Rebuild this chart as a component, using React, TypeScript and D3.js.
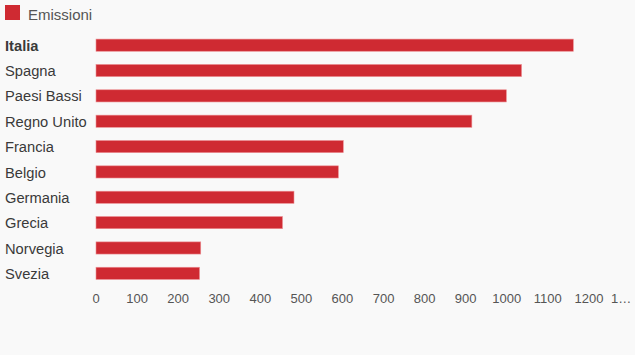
import React, { useEffect, useRef } from "react";
import * as d3 from "d3";

const countries = ["Italia", "Spagna", "Paesi Bassi", "Regno Unito", "Francia", "Belgio", "Germania", "Grecia", "Norvegia", "Svezia"];
const emissions = [1162, 1036, 999, 915, 602, 590, 482, 454, 255, 252];
const ticks = [0, 100, 200, 300, 400, 500, 600, 700, 800, 900, 1000, 1100, 1200, 1300];
const seriesName = "Emissioni";

const W = 635;
const H = 355;
const RED = "#cf2a32";

const App = () => {
  const svgRef = useRef<SVGSVGElement>(null);

  useEffect(() => {
    const svg = d3.select(svgRef.current);
    svg.selectAll("*").remove();

    svg.append("rect").attr("width", W).attr("height", H).attr("fill", "#f9f9f9");

    const x = d3.scaleLinear().domain([0, 1300]).range([96, 630]);
    const y = d3.scaleBand().domain(countries).range([32.5, 286]).paddingInner(0.52).paddingOuter(0.26);

    // legend
    svg.append("rect").attr("x", 5).attr("y", 5).attr("width", 15).attr("height", 15).attr("fill", RED);
    svg.append("text")
      .attr("x", 28).attr("y", 19.5)
      .text(seriesName)
      .style("font-size", "15px")
      .attr("fill", "#555");

    // bars
    svg.selectAll("rect.bar")
      .data(countries)
      .join("rect")
      .attr("class", "bar")
      .attr("x", x(0))
      .attr("y", d => y(d)!)
      .attr("width", (d, i) => x(emissions[i]) - x(0))
      .attr("height", y.bandwidth())
      .attr("fill", RED)
      .attr("stroke", "#ec8f93")
      .attr("stroke-width", 0.6);

    // category labels
    svg.selectAll("text.cat")
      .data(countries)
      .join("text")
      .attr("class", "cat")
      .attr("x", 5)
      .attr("y", d => y(d)! + y.bandwidth() / 2)
      .attr("dy", "0.38em")
      .text(d => d)
      .style("font-size", "14.7px")
      .style("font-weight", (d, i) => (i === 0 ? "bold" : "normal"))
      .attr("fill", "#3a3a3a");

    // x tick labels (last one is truncated in the original)
    svg.selectAll("text.tick")
      .data(ticks)
      .join("text")
      .attr("class", "tick")
      .attr("x", d => (d === 1300 ? x(d) - 19 : x(d)))
      .attr("y", 302.5)
      .attr("text-anchor", d => (d === 1300 ? "start" : "middle"))
      .text(d => (d === 1300 ? "1…" : String(d)))
      .style("font-size", "13px")
      .attr("fill", "#555");
  }, []);

  return (
    <svg
      ref={svgRef}
      width={W}
      height={H}
      style={{ position: "absolute", left: 0, top: 0, fontFamily: "'Liberation Sans', Arial, sans-serif" }}
    ></svg>
  );
};

export default App;
